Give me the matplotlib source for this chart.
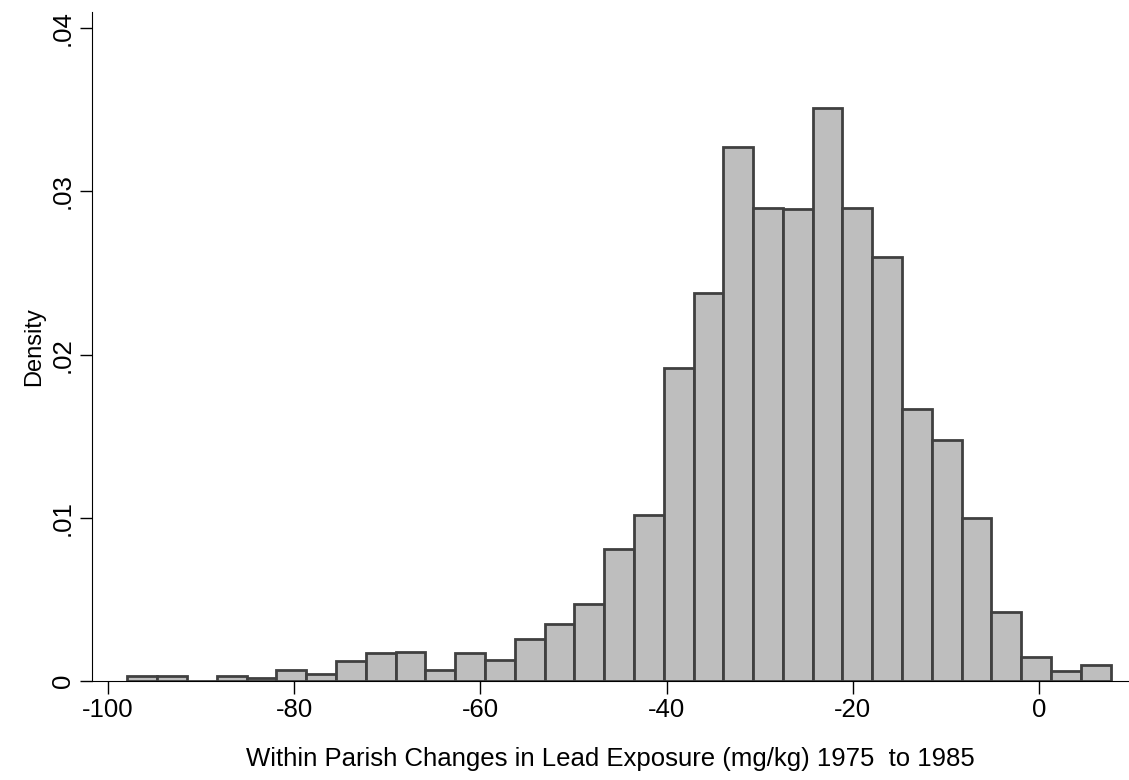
import matplotlib
matplotlib.use("Agg")
import matplotlib.pyplot as plt
import numpy as np

plt.rcParams['font.family'] = ['Liberation Sans', 'DejaVu Sans']

bin_start = -97.9
bin_width = 3.2
densities = [0.0003, 0.0003, 0.0, 0.0003, 0.0002, 0.0007, 0.0004, 0.0012, 0.0017, 0.0018,
             0.0007, 0.0017, 0.0013, 0.0026, 0.0035, 0.0047, 0.0081, 0.0102, 0.0192, 0.0238,
             0.0327, 0.0290, 0.0289, 0.0351, 0.0290, 0.0260, 0.0167, 0.0148, 0.0100, 0.0042,
             0.0015, 0.0006, 0.0010]
xticks = [-100, -80, -60, -40, -20, 0]
yticks = [0, 0.01, 0.02, 0.03, 0.04]
yticklabels = ["0", ".01", ".02", ".03", ".04"]

lefts = bin_start + bin_width * np.arange(len(densities))

fig = plt.figure(figsize=(11.29, 7.8), dpi=100)
ax = fig.add_axes([92/1129, 99/780, 1 - 92/1129 - 0.001, (681-12)/780])
ax.bar(lefts, densities, width=bin_width, align='edge', color='#bebebe',
       edgecolor='#404040', linewidth=2)
ax.set_xlim(-101.7, 9.55)
ax.set_ylim(0, 0.041)
ax.set_xticks(xticks)
ax.set_xticklabels([str(t) for t in xticks], fontsize=18.5)
ax.set_yticks(yticks)
ax.set_yticklabels(yticklabels, fontsize=18.5, rotation=90, va='center')
ax.spines['top'].set_visible(False)
ax.spines['right'].set_visible(False)
ax.tick_params(length=9, width=1)
ax.set_xlabel("Within Parish Changes in Lead Exposure (mg/kg) 1975  to 1985", fontsize=18.5, labelpad=18)
ax.set_ylabel("Density", fontsize=17, labelpad=4)
fig.savefig("out.png", dpi=100)
